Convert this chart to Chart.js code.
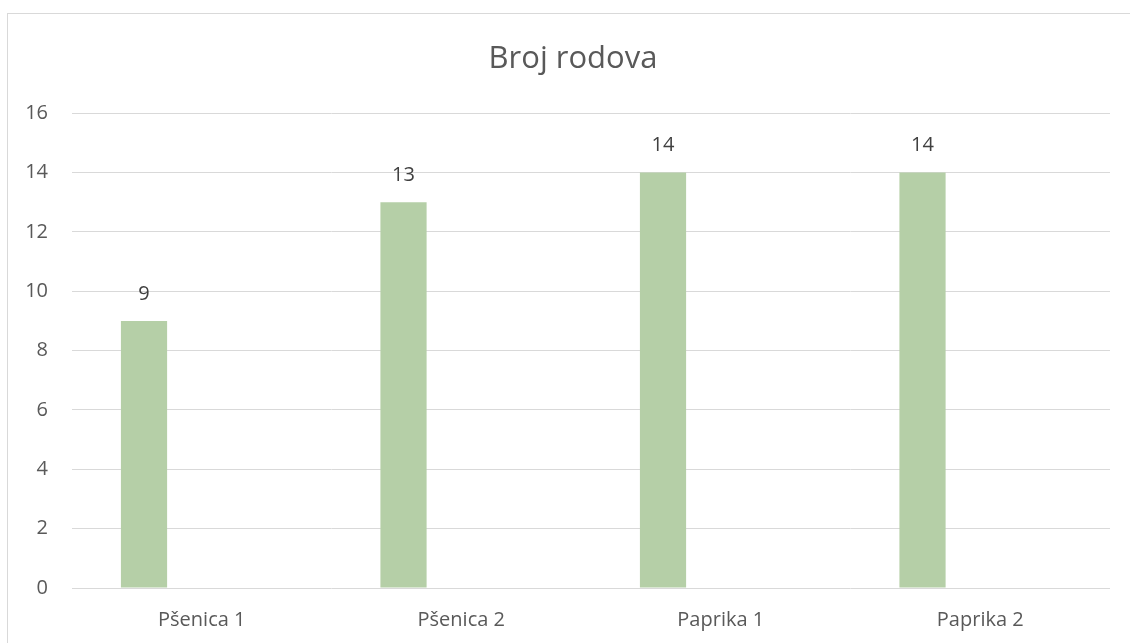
<!DOCTYPE html>
<html>
<head>
<meta charset="utf-8">
<script src="https://cdn.jsdelivr.net/npm/chart.js@4"></script>
<style>
  html, body { margin: 0; padding: 0; background: #fff; }
  #wrap { position: relative; width: 1130px; height: 643px; overflow: hidden; }
  #frame { position: absolute; left: 7px; top: 13px; width: 1200px; height: 700px; border: 1px solid #d9d9d9; }
  canvas { position: absolute; left: 0; top: 0; }
</style>
</head>
<body>
<div id="wrap">
  <div id="frame"></div>
  <canvas id="chart-container" width="1130" height="643"></canvas>
</div>
<script>
const categories = ['Pšenica 1', 'Pšenica 2', 'Paprika 1', 'Paprika 2'];
const brojRodova = [9, 13, 14, 14];
const emptySeries = [null, null, null, null];
const yTicks = [0, 2, 4, 6, 8, 10, 12, 14, 16];

(function () {
  const ctx = document.getElementById('chart-container').getContext('2d');

  const valueLabels = {
    id: 'valueLabels',
    afterLayout(chart) {
      // title is centred on the chart frame, not the canvas
      if (chart.titleBlock) chart.titleBlock.left += 36;
    },
    afterDatasetsDraw(chart) {
      const c = chart.ctx;
      c.save();
      c.font = '20px "Open Sans"';
      c.fillStyle = '#404040';
      c.textAlign = 'center';
      c.textBaseline = 'middle';
      chart.data.datasets.forEach((ds, i) => {
        chart.getDatasetMeta(i).data.forEach((bar, j) => {
          const v = ds.data[j];
          if (v === null || v === undefined) return;
          c.fillText(String(v), bar.x, bar.y - 27);
        });
      });
      c.restore();
    }
  };

  new Chart(ctx, {
    type: 'bar',
    data: {
      labels: categories,
      datasets: [
        {
          label: 'Broj rodova',
          data: brojRodova,
          backgroundColor: '#b5cfa7',
          categoryPercentage: 0.89,
          barPercentage: 0.4
        },
        {
          label: '',
          data: emptySeries,
          backgroundColor: '#b5cfa7',
          categoryPercentage: 0.89,
          barPercentage: 0.4
        }
      ]
    },
    plugins: [valueLabels],
    options: {
      responsive: false,
      animation: false,
      layout: { padding: { left: 0, right: 20, top: 21, bottom: 0 } },
      plugins: {
        legend: { display: false },
        tooltip: { enabled: false },
        title: {
          display: true,
          text: 'Broj rodova',
          color: '#595959',
          font: { family: 'Open Sans', size: 31, weight: 'normal' },
          padding: { top: 20, bottom: 35 }
        }
      },
      scales: {
        x: {
          grid: { display: false, drawTicks: false },
          border: { display: false },
          ticks: {
            color: '#595959',
            font: { family: 'Open Sans', size: 20 },
            padding: 20,
            maxRotation: 0
          },
          afterFit(scale) { scale.height = 55; }
        },
        y: {
          min: yTicks[0],
          max: yTicks[yTicks.length - 1],
          grid: { color: '#d9d9d9', lineWidth: 1, drawTicks: false },
          border: { display: false },
          afterBuildTicks(scale) { scale.ticks = yTicks.map(v => ({ value: v })); },
          ticks: {
            color: '#595959',
            font: { family: 'Open Sans', size: 20 },
            padding: 24
          },
          afterFit(scale) { scale.width = 72; }
        }
      }
    }
  });
})();
</script>
</body>
</html>
